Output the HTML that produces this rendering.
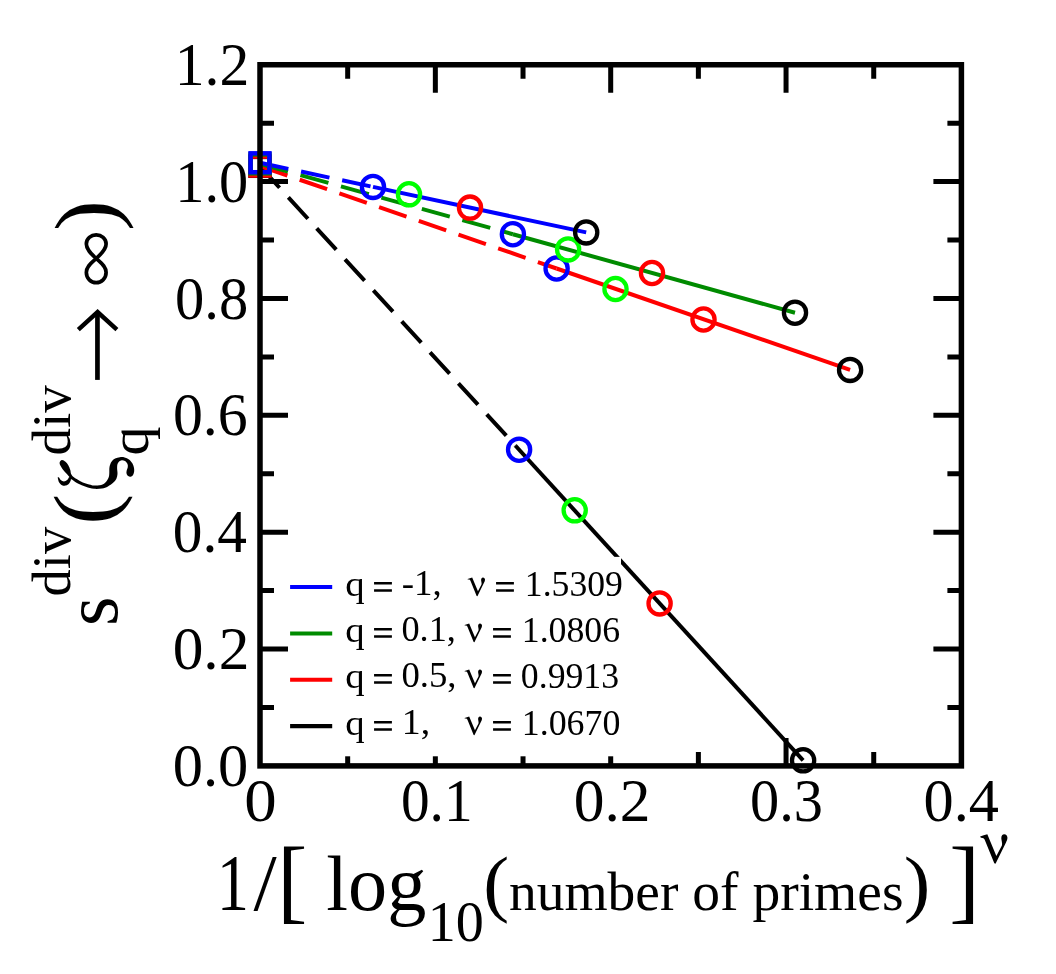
<!DOCTYPE html>
<html><head><meta charset="utf-8"><style>html,body{margin:0;padding:0;background:#fff;width:1056px;height:974px;overflow:hidden}text{font-family:'Liberation Serif',serif;fill:#000}</style></head>
<body>
<svg width="1056" height="974" viewBox="0 0 1056 974" style="display:block;will-change:transform;font-family:'Liberation Serif',serif;font-kerning:none">
<rect width="1056" height="974" fill="#fff"/>
<line x1="260" y1="166.33" x2="515.50" y2="445.76" stroke="#000" stroke-width="4.0" stroke-dasharray="29 13"/>
<line x1="515.50" y1="445.76" x2="803.10" y2="760.30" stroke="#000" stroke-width="4.0"/>
<line x1="260" y1="166.03" x2="556.60" y2="268.50" stroke="#ff0000" stroke-width="4.0" stroke-dasharray="29 13"/>
<line x1="556.60" y1="268.50" x2="850.10" y2="369.90" stroke="#ff0000" stroke-width="4.0"/>
<line x1="260" y1="163.83" x2="512.90" y2="234.20" stroke="#008b00" stroke-width="4.0" stroke-dasharray="29 13"/>
<line x1="512.90" y1="234.20" x2="795.00" y2="312.70" stroke="#008b00" stroke-width="4.0"/>
<line x1="260" y1="162.78" x2="373.00" y2="186.90" stroke="#0000ff" stroke-width="4.0" stroke-dasharray="29 13"/>
<line x1="373.00" y1="186.90" x2="586.20" y2="232.40" stroke="#0000ff" stroke-width="4.0"/>
<rect x="250.55" y="156.88" width="18.9" height="18.9" fill="none" stroke="#000" stroke-width="4.5"/>
<rect x="250.55" y="156.58" width="18.9" height="18.9" fill="none" stroke="#ff0000" stroke-width="4.5"/>
<rect x="250.55" y="154.38" width="18.9" height="18.9" fill="none" stroke="#008b00" stroke-width="4.5"/>
<rect x="250.55" y="153.33" width="18.9" height="18.9" fill="none" stroke="#0000ff" stroke-width="4.5"/>
<circle cx="373.00" cy="186.90" r="11.1" fill="none" stroke="#0000ff" stroke-width="4.3"/>
<circle cx="512.90" cy="234.20" r="11.1" fill="none" stroke="#0000ff" stroke-width="4.3"/>
<circle cx="556.60" cy="268.50" r="11.1" fill="none" stroke="#0000ff" stroke-width="4.3"/>
<circle cx="519.10" cy="449.70" r="11.1" fill="none" stroke="#0000ff" stroke-width="4.3"/>
<circle cx="409.00" cy="194.30" r="11.1" fill="none" stroke="#00ff00" stroke-width="4.3"/>
<circle cx="568.10" cy="249.40" r="11.1" fill="none" stroke="#00ff00" stroke-width="4.3"/>
<circle cx="615.50" cy="289.00" r="11.1" fill="none" stroke="#00ff00" stroke-width="4.3"/>
<circle cx="574.70" cy="510.30" r="11.1" fill="none" stroke="#00ff00" stroke-width="4.3"/>
<circle cx="470.00" cy="207.60" r="11.1" fill="none" stroke="#ff0000" stroke-width="4.3"/>
<circle cx="652.00" cy="273.00" r="11.1" fill="none" stroke="#ff0000" stroke-width="4.3"/>
<circle cx="703.50" cy="319.50" r="11.1" fill="none" stroke="#ff0000" stroke-width="4.3"/>
<circle cx="659.60" cy="603.40" r="11.1" fill="none" stroke="#ff0000" stroke-width="4.3"/>
<circle cx="586.20" cy="232.40" r="11.1" fill="none" stroke="#000000" stroke-width="4.3"/>
<circle cx="795.00" cy="312.70" r="11.1" fill="none" stroke="#000000" stroke-width="4.3"/>
<circle cx="850.10" cy="369.90" r="11.1" fill="none" stroke="#000000" stroke-width="4.3"/>
<circle cx="803.10" cy="760.30" r="11.1" fill="none" stroke="#000000" stroke-width="4.3"/>
<path d="M260.00,707.47h14M961.40,707.47h-14M260.00,649.04h28M961.40,649.04h-28M260.00,590.61h14M961.40,590.61h-14M260.00,532.18h28M961.40,532.18h-28M260.00,473.75h14M961.40,473.75h-14M260.00,415.32h28M961.40,415.32h-28M260.00,356.90h14M961.40,356.90h-14M260.00,298.47h28M961.40,298.47h-28M260.00,240.04h14M961.40,240.04h-14M260.00,181.61h28M961.40,181.61h-28M260.00,123.18h14M961.40,123.18h-14M347.68,765.90v-14M347.68,64.75v14M435.35,765.90v-28M435.35,64.75v28M523.03,765.90v-14M523.03,64.75v14M610.70,765.90v-28M610.70,64.75v28M698.38,765.90v-14M698.38,64.75v14M786.05,765.90v-28M786.05,64.75v28M873.73,765.90v-14M873.73,64.75v14" stroke="#000" stroke-width="5.0" fill="none"/>
<rect x="260.0" y="64.75" width="701.40" height="701.15" fill="none" stroke="#000" stroke-width="5.5"/>
<rect x="289" y="556.86" width="332" height="199.44" fill="#fff"/>
<line x1="290.1" y1="586.95" x2="332.2" y2="586.95" stroke="#0000ff" stroke-width="4.05"/>
<line x1="290.1" y1="633.4" x2="332.2" y2="633.4" stroke="#008b00" stroke-width="4.05"/>
<line x1="290.1" y1="679.8" x2="332.2" y2="679.8" stroke="#ff0000" stroke-width="4.05"/>
<line x1="290.1" y1="726.1" x2="332.2" y2="726.1" stroke="#000000" stroke-width="4.05"/>
<text transform="translate(172.70,786.00) scale(0.9971,1)" font-size="60.66">0.0</text>
<text transform="translate(172.66,669.14) scale(1.0119,1)" font-size="60.66">0.2</text>
<text transform="translate(172.74,552.28) scale(0.9784,1)" font-size="60.66">0.4</text>
<text transform="translate(172.92,435.42) scale(0.9873,1)" font-size="60.66">0.6</text>
<text transform="translate(175.07,318.57) scale(0.9648,1)" font-size="60.66">0.8</text>
<text transform="translate(175.27,201.71) scale(0.9621,1)" font-size="60.66">1.0</text>
<text transform="translate(174.65,84.85) scale(0.9844,1)" font-size="60.66">1.2</text>
<text transform="translate(244.33,820.60) scale(1.0697,1)" font-size="60.66">0</text>
<text transform="translate(400.92,820.60) scale(0.9453,1)" font-size="60.66">0.1</text>
<text transform="translate(573.66,820.60) scale(1.0133,1)" font-size="60.66">0.2</text>
<text transform="translate(749.98,820.60) scale(0.9628,1)" font-size="60.66">0.3</text>
<text transform="translate(923.50,820.60) scale(0.9949,1)" font-size="60.66">0.4</text>
<text transform="translate(216.73,909.90) scale(0.8031,1)" font-size="80.28" >1</text>
<text transform="translate(253.40,910.01) scale(1.0364,1)" font-size="80.57" >/</text>
<text transform="translate(277.20,912.13) scale(0.9767,1)" font-size="92.43" >[</text>
<text transform="translate(326.33,910.21) scale(0.9994,1)" font-size="78.27" >log</text>
<text transform="translate(427.76,940.94) scale(0.9795,1)" font-size="57.35" >10</text>
<text transform="translate(483.18,907.96) scale(1.0602,1)" font-size="73.45" >(</text>
<text transform="translate(508.93,910.09) scale(1.0179,1)" font-size="54.53" >number of primes</text>
<text transform="translate(903.63,907.83) scale(1.0916,1)" font-size="73.12" >)</text>
<text transform="translate(949.37,912.27) scale(0.9909,1)" font-size="92.92" >]</text>
<text transform="rotate(-90) translate(-626.10,117.05) scale(0.9859,1)" font-size="76.72" >s</text>
<text transform="rotate(-90) translate(-596.47,70.16) scale(0.9913,1)" font-size="55.00" >div</text>
<text transform="rotate(-90) translate(-524.69,114.45) scale(1.0681,1)" font-size="87.13" >(</text>
<path d="M61.96,459.97C62.95,459.78 64.44,460.91 65.50,461.80C66.56,462.69 67.50,463.92 68.30,465.30C69.10,466.68 69.83,468.63 70.30,470.10C70.77,471.57 70.50,472.90 71.10,474.10C71.70,475.30 72.43,476.17 73.90,477.30C75.37,478.43 77.92,479.85 79.90,480.90C81.88,481.95 83.82,482.88 85.80,483.60C87.78,484.32 90.43,484.87 91.80,485.20C93.17,485.53 92.97,485.57 94.00,485.60C95.03,485.63 96.67,485.53 98.00,485.40C99.33,485.27 100.68,485.37 102.00,484.80C103.32,484.23 104.78,483.25 105.90,482.00C107.02,480.75 108.13,478.82 108.70,477.30C109.27,475.78 109.17,474.63 109.30,472.90C109.43,471.17 109.13,468.75 109.50,466.90C109.87,465.05 110.57,463.18 111.50,461.80C112.43,460.42 113.70,459.37 115.10,458.60C116.50,457.83 118.32,457.40 119.90,457.20C121.48,457.00 123.08,457.03 124.60,457.40C126.12,457.77 127.73,458.47 129.00,459.40C130.27,460.33 131.40,461.75 132.20,463.00C133.00,464.25 133.47,465.58 133.80,466.90C134.13,468.22 134.33,469.57 134.20,470.90C134.07,472.23 133.60,473.93 133.00,474.90C132.40,475.87 131.40,476.50 130.60,476.70C129.80,476.90 128.87,476.60 128.20,476.10C127.53,475.60 126.87,474.57 126.60,473.70C126.33,472.83 126.40,472.03 126.60,470.90C126.80,469.77 127.67,468.08 127.80,466.90C127.93,465.72 127.87,464.78 127.40,463.80C126.93,462.82 125.93,461.60 125.00,461.00C124.07,460.40 122.78,460.13 121.80,460.20C120.82,460.27 119.82,460.75 119.10,461.40C118.38,462.05 117.83,462.98 117.50,464.10C117.17,465.22 117.10,466.43 117.10,468.10C117.10,469.77 117.63,472.30 117.50,474.10C117.37,475.90 117.03,477.45 116.30,478.90C115.57,480.35 114.50,481.55 113.10,482.80C111.70,484.05 109.75,485.47 107.90,486.40C106.05,487.33 104.32,488.00 102.00,488.40C99.68,488.80 96.70,489.07 94.00,488.80C91.30,488.53 88.48,487.67 85.80,486.80C83.12,485.93 80.28,484.85 77.90,483.60C75.52,482.35 72.70,479.82 71.50,479.30C70.30,478.78 71.10,479.78 70.70,480.50C70.30,481.22 69.90,482.75 69.10,483.60C68.30,484.45 67.08,485.33 65.90,485.60C64.72,485.87 63.12,485.73 62.00,485.20C60.88,484.67 59.87,483.45 59.20,482.40C58.53,481.35 58.23,479.75 58.00,478.90C57.77,478.05 57.60,477.50 57.80,477.30C58.00,477.10 58.70,477.23 59.20,477.70C59.70,478.17 60.02,479.47 60.80,480.10C61.58,480.73 62.85,481.50 63.90,481.50C64.95,481.50 66.30,480.73 67.10,480.10C67.90,479.47 68.37,478.30 68.70,477.70C69.03,477.10 69.56,477.30 69.10,476.50C68.64,475.70 67.12,474.29 65.93,472.90C64.74,471.50 63.02,469.79 61.96,468.13C60.90,466.47 59.57,464.32 59.57,462.96C59.57,461.60 60.97,460.16 61.96,459.97Z" fill="#000"/>
<text transform="rotate(-90) translate(-455.49,69.87) scale(1.0079,1)" font-size="54.58" >div</text>
<text transform="rotate(-90) translate(-455.59,148.30) scale(1.0623,1)" font-size="54.48" >q</text>
<path d="M96.2,258.5 C92,254.5 86.35,250 86.35,244 C86.35,238.5 91,234.9 96.2,234.9 C101.4,234.9 106.1,238.5 106.1,244 C106.1,250 100.4,254.5 96.2,258.5 C92,262.5 86.35,266 86.35,272.5 C86.35,278.5 91,282.7 96.2,282.7 C101.4,282.7 106.1,278.5 106.1,272.5 C106.1,266 100.4,262.5 96.2,258.5Z" fill="none" stroke="#000" stroke-width="3.7"/>
<text transform="rotate(-90) translate(-230.97,114.55) scale(1.0591,1)" font-size="87.13" >)</text>
<path d="M97.45,312 V379.9" stroke="#000" stroke-width="4.7" fill="none"/>
<path d="M78.3,329.7 L97.6,312.1 L116.9,329.7" stroke="#000" stroke-width="4.4" fill="none" stroke-miterlimit="10"/>
<path transform="translate(980.13,834.37) scale(1.0) translate(-980.13,-834.37)" d="M980.13,836.62 C982.5,835.9 985,835.0 987.32,834.37 L996.36,855.93 L1001.9,845.6 C1002.6,843.6 1001.3,840 1001.3,838.3 C1001.3,835.8 1002.5,834.37 1004.16,834.37 C1006.2,834.37 1007.44,836 1007.44,837.86 C1007.44,839.6 1006.7,841 1006.0,842.4 L995.53,863.73 L994.3,863.32 L984.6,839.6 C984.1,838.4 983.2,837.7 981.16,837.65 C980.5,837.6 980.13,837.2 980.13,836.62Z" fill="#000"/>
<text transform="translate(345.20,596.22) scale(1.0901,1)" font-size="35.60" >q</text>
<path d="M374.06,582.03h17.84v2.59h-17.84zM374.06,589.20h17.84v2.56h-17.84z" fill="#000"/>
<text transform="translate(401.63,595.35) scale(1.0622,1)" font-size="34.77" >-1,</text>
<path transform="translate(467.60,577.46) scale(0.638) translate(-980.13,-834.37)" d="M980.13,836.62 C982.5,835.9 985,835.0 987.32,834.37 L996.36,855.93 L1001.9,845.6 C1002.6,843.6 1001.3,840 1001.3,838.3 C1001.3,835.8 1002.5,834.37 1004.16,834.37 C1006.2,834.37 1007.44,836 1007.44,837.86 C1007.44,839.6 1006.7,841 1006.0,842.4 L995.53,863.73 L994.3,863.32 L984.6,839.6 C984.1,838.4 983.2,837.7 981.16,837.65 C980.5,837.6 980.13,837.2 980.13,836.62Z" fill="#000"/>
<path d="M496.06,582.03h17.84v2.59h-17.84zM496.06,589.20h17.84v2.56h-17.84z" fill="#000"/>
<text transform="translate(524.87,595.59) scale(0.9960,1)" font-size="35.78" >1.5309</text>
<text transform="translate(345.20,642.22) scale(1.0901,1)" font-size="35.60" >q</text>
<path d="M374.06,628.03h17.84v2.59h-17.84zM374.06,635.20h17.84v2.56h-17.84z" fill="#000"/>
<text transform="translate(401.42,641.29) scale(1.0325,1)" font-size="35.17" >0.1,</text>
<path transform="translate(464.60,623.46) scale(0.638) translate(-980.13,-834.37)" d="M980.13,836.62 C982.5,835.9 985,835.0 987.32,834.37 L996.36,855.93 L1001.9,845.6 C1002.6,843.6 1001.3,840 1001.3,838.3 C1001.3,835.8 1002.5,834.37 1004.16,834.37 C1006.2,834.37 1007.44,836 1007.44,837.86 C1007.44,839.6 1006.7,841 1006.0,842.4 L995.53,863.73 L994.3,863.32 L984.6,839.6 C984.1,838.4 983.2,837.7 981.16,837.65 C980.5,837.6 980.13,837.2 980.13,836.62Z" fill="#000"/>
<path d="M493.06,628.03h17.84v2.59h-17.84zM493.06,635.20h17.84v2.56h-17.84z" fill="#000"/>
<text transform="translate(521.76,641.59) scale(0.9992,1)" font-size="35.78" >1.0806</text>
<text transform="translate(345.20,688.22) scale(1.0901,1)" font-size="35.60" >q</text>
<path d="M374.06,674.03h17.84v2.59h-17.84zM374.06,681.20h17.84v2.56h-17.84z" fill="#000"/>
<text transform="translate(401.40,687.29) scale(1.0447,1)" font-size="35.17" >0.5,</text>
<path transform="translate(464.60,669.46) scale(0.638) translate(-980.13,-834.37)" d="M980.13,836.62 C982.5,835.9 985,835.0 987.32,834.37 L996.36,855.93 L1001.9,845.6 C1002.6,843.6 1001.3,840 1001.3,838.3 C1001.3,835.8 1002.5,834.37 1004.16,834.37 C1006.2,834.37 1007.44,836 1007.44,837.86 C1007.44,839.6 1006.7,841 1006.0,842.4 L995.53,863.73 L994.3,863.32 L984.6,839.6 C984.1,838.4 983.2,837.7 981.16,837.65 C980.5,837.6 980.13,837.2 980.13,836.62Z" fill="#000"/>
<path d="M493.06,674.03h17.84v2.59h-17.84zM493.06,681.20h17.84v2.56h-17.84z" fill="#000"/>
<text transform="translate(520.84,687.59) scale(0.9987,1)" font-size="35.78" >0.9913</text>
<text transform="translate(345.20,735.22) scale(1.0901,1)" font-size="35.60" >q</text>
<path d="M374.06,721.03h17.84v2.59h-17.84zM374.06,728.20h17.84v2.56h-17.84z" fill="#000"/>
<text transform="translate(401.77,734.35) scale(1.0898,1)" font-size="34.77" >1,</text>
<path transform="translate(464.60,716.46) scale(0.638) translate(-980.13,-834.37)" d="M980.13,836.62 C982.5,835.9 985,835.0 987.32,834.37 L996.36,855.93 L1001.9,845.6 C1002.6,843.6 1001.3,840 1001.3,838.3 C1001.3,835.8 1002.5,834.37 1004.16,834.37 C1006.2,834.37 1007.44,836 1007.44,837.86 C1007.44,839.6 1006.7,841 1006.0,842.4 L995.53,863.73 L994.3,863.32 L984.6,839.6 C984.1,838.4 983.2,837.7 981.16,837.65 C980.5,837.6 980.13,837.2 980.13,836.62Z" fill="#000"/>
<path d="M493.06,721.03h17.84v2.59h-17.84zM493.06,728.20h17.84v2.56h-17.84z" fill="#000"/>
<text transform="translate(521.75,734.59) scale(1.0023,1)" font-size="35.78" >1.0670</text>
</svg>
</body></html>
